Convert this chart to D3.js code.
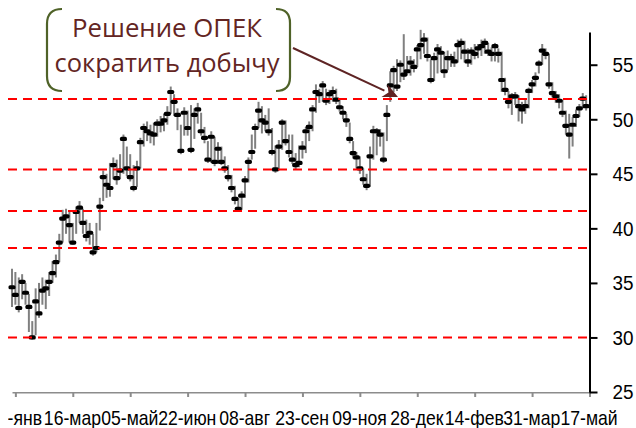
<!DOCTYPE html>
<html>
<head>
<meta charset="utf-8">
<script src="https://cdn.jsdelivr.net/npm/d3@7"></script>
<style>
  body { margin: 0; background: #fff; }
  svg { display: block; }
</style>
</head>
<body>
<svg width="636" height="428"></svg>
<script>
// tick labels, every 17th point
var tickLabels = ['28-янв', '16-мар', '05-май', '22-июн', '08-авг', '23-сен',
  '09-ноя', '28-дек', '14-фев', '31-мар', '17-май'];

// price, every other trading day
var closes = [
  34.6, 33.9, 32.7, 35.1, 34.1, 32.8, 30.0, 33.3, 32.2, 34.3,
  34.5, 35.1, 35.9, 36.9, 38.7, 40.9, 41.1, 40.3, 38.7, 41.5,
  41.9, 40.5, 39.3, 39.6, 37.8, 38.2, 42.0, 44.7, 44.0, 43.7,
  45.8, 44.6, 45.3, 48.2, 45.5, 44.7, 43.7, 45.5, 47.9, 49.2,
  48.9, 48.7, 48.6, 49.6, 49.6, 49.9, 50.5, 52.5, 51.6, 50.4,
  47.1, 50.6, 49.2, 47.2, 50.4, 50.9, 48.9, 48.3, 46.3, 48.4,
  46.1, 47.3, 46.1, 45.5, 44.7, 43.7, 42.7, 41.8, 43.0, 44.4,
  46.1, 47.0, 49.2, 50.8, 49.9, 49.7, 48.9, 47.0, 45.4, 47.5,
  49.7, 48.0, 47.0, 46.3, 45.8, 46.0, 47.4, 48.9, 49.3, 50.9,
  52.5, 52.3, 53.1, 51.7, 52.3, 52.5, 51.8, 51.1, 50.6, 49.9,
  48.2, 46.9, 46.5, 45.5, 44.5, 43.9, 46.6, 48.9, 48.9, 48.6,
  46.3, 50.4, 53.1, 54.5, 53.0, 55.0, 54.1, 54.4, 55.2, 54.8,
  56.4, 56.8, 57.3, 55.8, 53.6, 55.6, 56.4, 56.1, 54.4, 55.6,
  55.6, 55.3, 56.8, 57.0, 56.2, 55.3, 56.2, 56.0, 56.5, 56.7,
  57.0, 56.2, 56.0, 56.7, 56.0, 53.6, 52.7, 51.6, 52.1, 52.1,
  51.2, 50.9, 51.2, 52.6, 53.2, 53.8, 55.1, 56.3, 56.0, 53.2,
  52.4, 52.1, 51.7, 50.6, 49.4, 48.6, 49.5, 50.3, 51.0, 51.9,
  51.2
];

var highs = [
  36.3, 36.0, 35.5, 35.8, 35.0, 34.0, 31.5, 34.5, 35.0, 35.5,
  35.3, 36.0, 37.0, 37.6, 39.5, 41.7, 41.8, 41.5, 40.5, 42.0,
  42.5, 41.8, 40.8, 40.5, 39.5, 40.5, 42.8, 45.3, 45.0, 46.0,
  46.5, 46.3, 46.8, 48.6, 47.5, 46.8, 45.8, 46.2, 48.3, 49.6,
  49.8, 49.5, 49.7, 50.0, 50.3, 50.5, 51.2, 53.0, 52.3, 51.0,
  49.5, 51.1, 50.8, 51.3, 51.0, 51.5, 50.6, 49.3, 48.0, 48.9,
  48.4, 47.9, 47.5, 46.6, 45.8, 44.9, 43.9, 42.8, 43.4, 44.8,
  46.5, 48.6, 49.6, 51.6, 51.2, 50.4, 51.0, 49.2, 47.6, 48.1,
  50.0, 49.9, 48.6, 48.6, 46.9, 47.6, 48.0, 49.3, 49.8, 51.3,
  53.2, 52.8, 53.5, 52.8, 52.7, 53.0, 52.8, 51.9, 51.2, 50.5,
  49.7, 48.0, 47.0, 46.6, 45.5, 45.0, 47.5, 49.4, 49.2, 49.1,
  48.8, 51.3, 54.4, 54.9, 55.5, 55.4, 57.8, 55.8, 55.8, 55.5,
  56.8, 58.2, 57.9, 57.5, 55.5, 56.1, 56.9, 56.7, 56.2, 56.3,
  56.0, 56.2, 57.3, 57.4, 57.2, 56.5, 56.6, 56.9, 56.9, 57.3,
  57.4, 57.0, 56.6, 57.0, 56.5, 56.2, 53.8, 52.6, 52.4, 52.5,
  52.2, 51.6, 51.8, 52.9, 53.6, 54.3, 55.4, 56.9, 56.5, 56.0,
  53.4, 52.6, 52.3, 51.8, 50.8, 50.5, 50.2, 50.9, 51.4, 52.4,
  52.2
];

var lows = [
  32.8, 33.0, 32.3, 33.5, 33.0, 30.5, 29.8, 30.2, 31.8, 33.0,
  32.6, 33.8, 35.0, 35.5, 36.9, 38.7, 39.5, 38.7, 38.5, 39.5,
  40.5, 39.5, 38.8, 38.5, 37.5, 37.8, 39.8, 42.5, 42.8, 42.9,
  44.5, 44.0, 44.5, 45.0, 44.8, 44.3, 43.4, 43.8, 45.5, 47.5,
  48.0, 47.8, 47.6, 48.4, 48.8, 48.9, 49.5, 50.5, 50.3, 49.0,
  46.8, 48.5, 48.5, 46.9, 48.2, 49.6, 48.5, 47.8, 46.0, 46.0,
  45.7, 45.9, 45.8, 45.1, 44.3, 43.3, 42.2, 41.5, 41.7, 42.8,
  44.2, 46.3, 47.3, 49.2, 48.7, 48.9, 48.5, 46.7, 45.1, 45.3,
  47.2, 47.6, 46.5, 45.9, 45.4, 45.6, 46.4, 46.9, 48.0, 48.9,
  50.6, 51.5, 51.6, 51.3, 51.4, 51.6, 51.4, 50.7, 50.0, 49.3,
  47.8, 46.4, 45.5, 45.0, 44.0, 43.5, 43.8, 46.3, 46.7, 47.5,
  46.0, 48.0, 51.6, 52.5, 52.6, 53.4, 53.6, 54.0, 54.0, 54.3,
  54.8, 55.5, 56.0, 55.3, 53.3, 53.5, 54.2, 54.3, 53.8, 54.5,
  54.8, 54.8, 55.2, 55.5, 55.2, 54.8, 55.0, 55.5, 55.6, 55.8,
  56.0, 55.8, 55.3, 55.3, 55.2, 52.5, 52.2, 51.0, 50.4, 51.3,
  49.8, 49.6, 50.5, 51.0, 52.4, 53.0, 54.2, 55.0, 55.5, 52.8,
  52.0, 51.5, 51.0, 50.2, 48.6, 46.4, 47.5, 49.3, 50.2, 51.0,
  50.8
];

// red dashed levels
var levels = [30.0, 38.2, 41.6, 45.4, 51.85];

var note = ['Решение ОПЕК', 'сократить добычу'];

var svg = d3.select('svg');

var x = d3.scaleLinear().domain([0, 171]).range([12, 589.5]);
var y = d3.scaleLinear().domain([25, 58]).range([392, 32]);

var tickIdx = tickLabels.map(function(d, k) { return 1 + 17 * k; });

svg.append('clipPath')
  .attr('id', 'labelclip')
  .append('rect')
  .attr('x', 8).attr('y', 0)
  .attr('width', 628).attr('height', 428);

// high-low bars
svg.append('g')
  .selectAll('line')
  .data(closes)
  .enter().append('line')
  .attr('x1', function(d, i) { return x(i); })
  .attr('x2', function(d, i) { return x(i); })
  .attr('y1', function(d, i) { return y(highs[i]); })
  .attr('y2', function(d, i) { return y(lows[i]); })
  .attr('stroke', '#808080')
  .attr('stroke-width', 2);

// close marks
svg.append('g')
  .selectAll('rect')
  .data(closes)
  .enter().append('rect')
  .attr('x', function(d, i) { return x(i) - 3.5; })
  .attr('y', function(d) { return y(d) - 2.1; })
  .attr('width', 7)
  .attr('height', 4.2)
  .attr('rx', 1.6)
  .attr('fill', '#000');

// levels
svg.append('g')
  .selectAll('line')
  .data(levels)
  .enter().append('line')
  .attr('x1', 8)
  .attr('x2', x.range()[1])
  .attr('y1', function(d) { return y(d); })
  .attr('y2', function(d) { return y(d); })
  .attr('stroke', '#ff0000')
  .attr('stroke-width', 2)
  .attr('stroke-dasharray', '9,6');

// x axis
var xAxis = svg.append('g')
  .attr('transform', 'translate(0,' + y(25) + ')')
  .call(d3.axisBottom(x)
    .tickValues(tickIdx)
    .tickFormat(function(d, i) { return tickLabels[i]; })
    .tickSize(5)
    .tickSizeOuter(0));

xAxis.select('.domain').attr('stroke', '#8c8c8c').attr('stroke-width', 2);
xAxis.selectAll('.tick line').attr('stroke', '#8c8c8c').attr('stroke-width', 2);
xAxis.attr('clip-path', 'url(#labelclip)');
xAxis.selectAll('.tick text')
  .attr('x', -1)
  .attr('y', 33)
  .attr('dy', null)
  .attr('transform', 'scale(0.88,1)')
  .attr('fill', '#000')
  .style('font-family', '"Liberation Sans", Arial, sans-serif')
  .style('font-size', '20px');

// y axis on the right
var yAxis = svg.append('g')
  .attr('transform', 'translate(' + x.range()[1] + ',0)')
  .call(d3.axisRight(y)
    .tickValues([25, 30, 35, 40, 45, 50, 55])
    .tickSize(8)
    .tickPadding(15)
    .tickSizeOuter(0));

yAxis.select('.domain').attr('stroke', '#000').attr('stroke-width', 2);
yAxis.selectAll('.tick line').attr('stroke', '#000').attr('stroke-width', 2);
yAxis.selectAll('.tick text')
  .attr('x', 23 / 0.9)
  .attr('transform', 'scale(0.9,1)')
  .attr('fill', '#000')
  .style('font-family', '"Liberation Sans", Arial, sans-serif')
  .style('font-size', '21px');

// note box (bracket pair)
svg.append('path')
  .attr('d', 'M62,9 Q47,9 47,24 L47,76 Q47,91 62,91 M276,9 Q290,9 290,23 L290,77 Q290,91 276,91')
  .attr('fill', 'none')
  .attr('stroke', '#4f6228')
  .attr('stroke-width', 2.2);

svg.append('g')
  .selectAll('text')
  .data(note)
  .enter().append('text')
  .attr('x', 167)
  .attr('y', function(d, i) { return 37 + i * 35; })
  .attr('text-anchor', 'middle')
  .attr('textLength', function(d, i) { return i ? 225 : 190; })
  .attr('lengthAdjust', 'spacingAndGlyphs')
  .attr('fill', '#632523')
  .style('font-family', '"Open Sans", sans-serif')
  .style('font-size', '25px')
  .text(function(d) { return d; });

// arrow to the decision day
var ax0 = 293, ay0 = 48, ax1 = 398, ay1 = 97;
var dx = ax1 - ax0, dy = ay1 - ay0, len = Math.sqrt(dx * dx + dy * dy);
var ux = dx / len, uy = dy / len;
var headL = 15, headW = 7;

svg.append('line')
  .attr('x1', ax0).attr('y1', ay0)
  .attr('x2', ax1 - ux * headL).attr('y2', ay1 - uy * headL)
  .attr('stroke', '#5e2424')
  .attr('stroke-width', 2);

svg.append('path')
  .attr('d', 'M' + ax1 + ',' + ay1 +
    'L' + (ax1 - ux * headL - uy * headW) + ',' + (ay1 - uy * headL + ux * headW) +
    'L' + (ax1 - ux * headL * 0.7) + ',' + (ay1 - uy * headL * 0.7) +
    'L' + (ax1 - ux * headL + uy * headW) + ',' + (ay1 - uy * headL - ux * headW) + 'Z')
  .attr('fill', '#5e2424');
</script>
</body>
</html>
